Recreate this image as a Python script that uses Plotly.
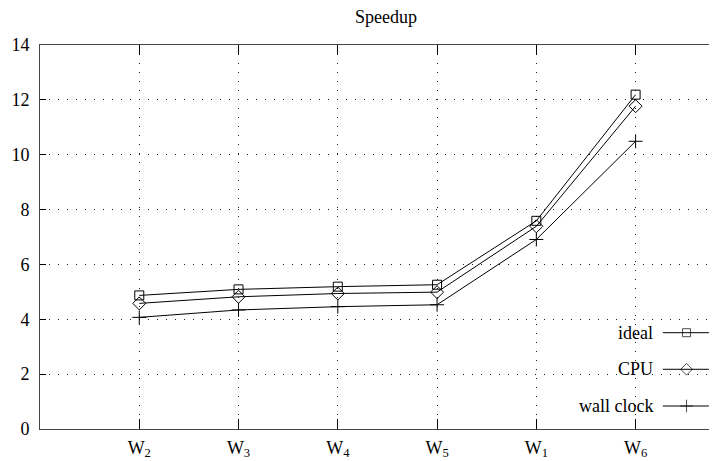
import plotly.graph_objects as go

categories = ["W<sub>2</sub>", "W<sub>3</sub>", "W<sub>4</sub>", "W<sub>5</sub>", "W<sub>1</sub>", "W<sub>6</sub>"]
ideal = [4.87, 5.09, 5.19, 5.26, 7.59, 12.19]
cpu = [4.58, 4.82, 4.94, 4.99, 7.39, 11.77]
wall_clock = [4.07, 4.34, 4.46, 4.53, 6.91, 10.49]
y_ticks = [0, 2, 4, 6, 8, 10, 12, 14]

series = [
    ("ideal", ideal, "square-open", 9),
    ("CPU", cpu, "diamond-open", 10),
    ("wall clock", wall_clock, "cross-thin-open", 10),
]

FONT = "Liberation Serif, Times New Roman, serif"
xpos = list(range(1, len(categories) + 1))

fig = go.Figure()
for name, vals, sym, sz in series:
    fig.add_trace(go.Scatter(
        x=xpos, y=vals, mode="lines+markers", name=name, showlegend=False,
        line=dict(color="black", width=1),
        marker=dict(symbol=sym, size=sz, color="black", line=dict(color="black", width=1)),
    ))

# manual gnuplot-style key (text left, sample right)
key_y = [0.2508, 0.1555, 0.0599]
for (name, vals, sym, sz), ky in zip(series, key_y):
    fig.add_trace(go.Scatter(
        x=[0.920, 0.955, 0.988], y=[ky, ky, ky], xaxis="x2", yaxis="y2",
        mode="lines+markers", showlegend=False, hoverinfo="skip",
        line=dict(color="black", width=1),
        marker=dict(symbol=sym, size=[0, sz - 1, 0], color="black", line=dict(color="black", width=1)),
    ))
    fig.add_annotation(x=0.908, y=ky, xref="paper", yref="paper", text=name,
                       showarrow=False, xanchor="right", yanchor="middle",
                       font=dict(family=FONT, size=18, color="black"))

fig.update_layout(
    width=709, height=453,
    margin=dict(l=32, r=0, t=37, b=32, autoexpand=False),
    paper_bgcolor="white", plot_bgcolor="white",
    font=dict(family=FONT, size=18, color="black"),
    title=dict(text="Speedup", x=0.511, xref="paper", y=0.980, yref="container",
               xanchor="center", yanchor="middle", font=dict(family=FONT, size=18)),
    xaxis=dict(
        range=[0, 6.82], tickvals=xpos, ticktext=categories, automargin=False,
        showgrid=True, gridcolor="#222", griddash="1px,8px", gridwidth=1,
        ticks="inside", ticklen=10, tickcolor="black",
        showline=True, linecolor="#444", linewidth=1, mirror="ticks",
        zeroline=False, tickfont=dict(family=FONT, size=18), ticklabelstandoff=2,
    ),
    yaxis=dict(
        range=[0, 14], tickvals=y_ticks, automargin=False,
        showgrid=True, gridcolor="#222", griddash="1px,8px", gridwidth=1,
        ticks="inside", ticklen=6, tickcolor="black",
        showline=True, linecolor="#444", linewidth=1,
        zeroline=False, tickfont=dict(family=FONT, size=18), ticklabelstandoff=6,
    ),
    xaxis2=dict(range=[0, 1], overlaying="x", visible=False, fixedrange=True),
    yaxis2=dict(range=[0, 1], overlaying="y", visible=False, fixedrange=True),
)

fig.write_html("out.html")
